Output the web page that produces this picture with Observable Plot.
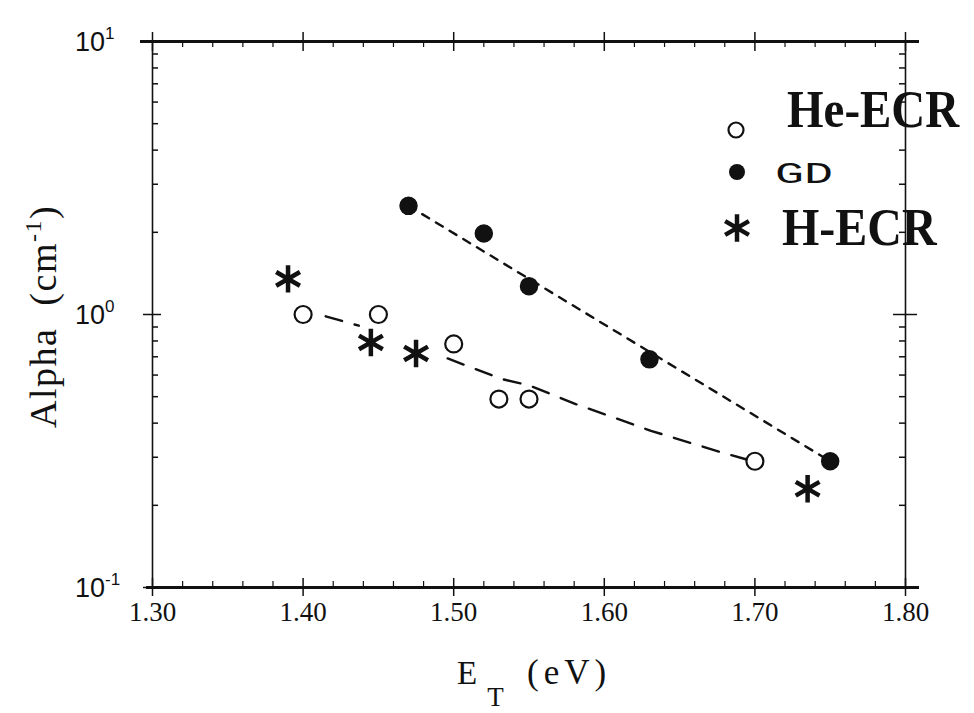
<!DOCTYPE html>
<html><head><meta charset="utf-8">
<script src="https://cdn.jsdelivr.net/npm/d3@7"></script>
<script src="https://cdn.jsdelivr.net/npm/@observablehq/plot@0.6"></script>
<style>body{margin:0;background:#fff;} #chart svg{display:block;}</style>
</head><body><div id="chart"></div>
<script>
// ---- data ----
const gdX = [1.47, 1.52, 1.55, 1.63, 1.75];
const gdY = [2.5, 1.98, 1.27, 0.685, 0.29];
const heX = [1.40, 1.45, 1.50, 1.53, 1.55, 1.70];
const heY = [1.0, 1.0, 0.78, 0.49, 0.49, 0.29];
const hX = [1.39, 1.445, 1.475, 1.735];
const hY = [1.35, 0.79, 0.72, 0.23];
const gdFitX = [1.47, 1.75];
const gdFitY = [2.5, 0.29];
const heFitX = [1.415, 1.437, 1.496, 1.532, 1.55, 1.581, 1.631, 1.68, 1.694];
const heFitY = [0.985, 0.91, 0.69, 0.58, 0.55, 0.47, 0.375, 0.31, 0.295];
const heFitSeg = [0, 0, 1, 1, 1, 1, 1, 1, 1];
const xTicks = [1.30, 1.40, 1.50, 1.60, 1.70, 1.80];
const xTickLabels = ["1.30", "1.40", "1.50", "1.60", "1.70", "1.80"];
const xMinor = [1.32,1.34,1.36,1.38,1.42,1.44,1.46,1.48,1.52,1.54,1.56,1.58,1.62,1.64,1.66,1.68,1.72,1.74,1.76,1.78];
const yTicks = [0.1, 1, 10];
const yTickBase = ["10", "10", "10"];
const yTickExp = ["-1", "0", "1"];
const yMinor = [0.2,0.3,0.4,0.5,0.6,0.7,0.8,0.9,2,3,4,5,6,7,8,9];
const legendLabels = ["He-ECR", "GD", "H-ECR"];
const xLabel = ["E", "T", "(eV)"];
const yLabel = ["Alpha  (cm", "-1", ")"];

// ---- tables ----
const gd = gdX.map((x, i) => ({x, y: gdY[i]}));
const he = heX.map((x, i) => ({x, y: heY[i]}));
const hh = hX.map((x, i) => ({x, y: hY[i]}));
const gdFit = gdFitX.map((x, i) => ({x, y: gdFitY[i]}));
const heFit = heFitX.map((x, i) => ({x, y: heFitY[i], s: heFitSeg[i]}));

const W = 974, H = 713;
const mL = 152, mR = 69, mT = 41, mB = 126;
const pw = W - mL - mR, ph = H - mT - mB;
const serif = "'Liberation Serif', 'Times New Roman', serif";
const sans = "'Liberation Sans', 'DejaVu Sans', sans-serif";
const starR = 13;

const svg = Plot.plot({
  width: W, height: H,
  marginLeft: mL, marginRight: mR, marginTop: mT, marginBottom: mB,
  style: {background: "#fff", color: "#111", fontFamily: serif},
  x: {domain: [1.30, 1.80], axis: null},
  y: {type: "log", domain: [0.1, 10], axis: null},
  marks: [
    // frame
    Plot.ruleY([10], {stroke: "#111", strokeWidth: 3, insetLeft: -12, insetRight: -14}),
    Plot.ruleY([0.1], {stroke: "#111", strokeWidth: 3, insetLeft: -6, insetRight: -14}),
    Plot.ruleX([1.30, 1.80], {stroke: "#111", strokeWidth: 1.6}),
    // bottom axis
    Plot.axisX({anchor: "bottom", ticks: xTicks, tickSize: 9, tickPadding: 5,
      tickFormat: (d, i) => xTickLabels[i], fontSize: 27, fontFamily: serif, stroke: "#111", strokeWidth: 1.5, label: null}),
    Plot.tickX(xTicks, {x: d => d, insetTop: ph - 9, stroke: "#111", strokeWidth: 1.5}),
    Plot.tickX(xMinor, {x: d => d, insetTop: ph - 6, stroke: "#111", strokeWidth: 1.2}),
    // top axis
    Plot.axisX({anchor: "top", ticks: xTicks, tickSize: 10, tickFormat: () => "", stroke: "#111", strokeWidth: 1.5, label: null}),
    Plot.tickX(xTicks, {x: d => d, insetBottom: ph - 10, stroke: "#111", strokeWidth: 1.5}),
    Plot.tickX(xMinor, {x: d => d, insetBottom: ph - 6, stroke: "#111", strokeWidth: 1.2}),
    // left axis
    Plot.tickY(yTicks, {y: d => d, insetRight: pw - 9, insetLeft: -9, stroke: "#111", strokeWidth: 1.5}),
    Plot.tickY(yMinor, {y: d => d, insetRight: pw - 6, stroke: "#111", strokeWidth: 1.5}),
    // right axis
    Plot.tickY([1], {y: d => d, insetLeft: pw - 12, insetRight: -12, stroke: "#111", strokeWidth: 1.5}),
    Plot.tickY(yMinor, {y: d => d, insetLeft: pw - 6, stroke: "#111", strokeWidth: 1.5}),
    // trend lines
    Plot.line(gdFit, {x: "x", y: "y", stroke: "#111", strokeWidth: 2.4, strokeDasharray: "8,8"}),
    Plot.line(heFit, {x: "x", y: "y", z: "s", stroke: "#111", strokeWidth: 2.4, strokeDasharray: "17,13"}),
    // data
    Plot.dot(he, {x: "x", y: "y", r: 8.5, stroke: "#111", strokeWidth: 2.2, fill: "#fff"}),
    Plot.dot(gd, {x: "x", y: "y", r: 8.5, fill: "#111", stroke: "#111"}),
    Plot.dot(hh, {x: "x", y: "y", r: starR, symbol: "asterisk", stroke: "#111", strokeWidth: 4.5})
  ]
});

const root = d3.select(svg);
const ys = svg.scale("y");

// y tick labels with superscript exponents, placed through the y scale
yTicks.forEach((v, i) => {
  const t = root.append("text")
    .attr("x", 75).attr("y", ys.apply(v) + 10)
    .attr("text-anchor", "start")
    .attr("font-family", sans).attr("font-size", 27).attr("fill", "#111");
  t.append("tspan").text(yTickBase[i]);
  t.append("tspan").attr("dy", -12).attr("font-size", 17).text(yTickExp[i]);
});

// axis titles
const xl = root.append("text")
  .attr("x", 457).attr("y", 684)
  .attr("text-anchor", "start")
  .attr("font-family", serif).attr("font-size", 33).attr("fill", "#111");
xl.append("tspan").text(xLabel[0]);
xl.append("tspan").attr("dy", 22).attr("dx", 10).attr("font-size", 27).text(xLabel[1]);
xl.append("tspan").attr("x", 527).attr("dy", -22).attr("letter-spacing", 5).attr("font-size", 35).text(xLabel[2]);

const yl = root.append("text")
  .attr("transform", `translate(56, 428) rotate(-90)`)
  .attr("text-anchor", "start")
  .attr("font-family", serif).attr("font-size", 38).attr("fill", "#111")
  .attr("letter-spacing", 1.5)
  .attr("xml:space", "preserve").style("white-space", "pre");
yl.append("tspan").text(yLabel[0]);
yl.append("tspan").attr("dy", -15).attr("font-size", 24).text(yLabel[1]);
yl.append("tspan").attr("dy", 15).text(yLabel[2]);

// legend
const lg = root.append("g").attr("fill", "#111").attr("text-anchor", "start");
lg.append("circle").attr("cx", 736).attr("cy", 130).attr("r", 7.5).attr("fill", "#fff").attr("stroke", "#111").attr("stroke-width", 2.2);
lg.append("circle").attr("cx", 737).attr("cy", 172).attr("r", 8).attr("fill", "#111");
lg.append("path").attr("d", d3.symbol(d3.symbolAsterisk, starR * starR * Math.PI)()).attr("transform", "translate(737,228)")
  .attr("stroke", "#111").attr("stroke-width", 4.5).attr("fill", "none");
lg.append("text").attr("transform", "translate(787,127) scale(1,1.14)").attr("font-family", serif).attr("font-weight", "bold")
  .attr("font-size", 47).text(legendLabels[0]);
lg.append("text").attr("x", 775).attr("y", 183).attr("font-family", "'Liberation Mono', monospace")
  .attr("font-size", 30).attr("textLength", 58).attr("lengthAdjust", "spacingAndGlyphs").text(legendLabels[1]);
lg.append("text").attr("transform", "translate(782,245) scale(1,1.1)").attr("font-family", serif).attr("font-weight", "bold")
  .attr("font-size", 48).text(legendLabels[2]);

document.getElementById("chart").append(svg);
</script>
</body></html>
